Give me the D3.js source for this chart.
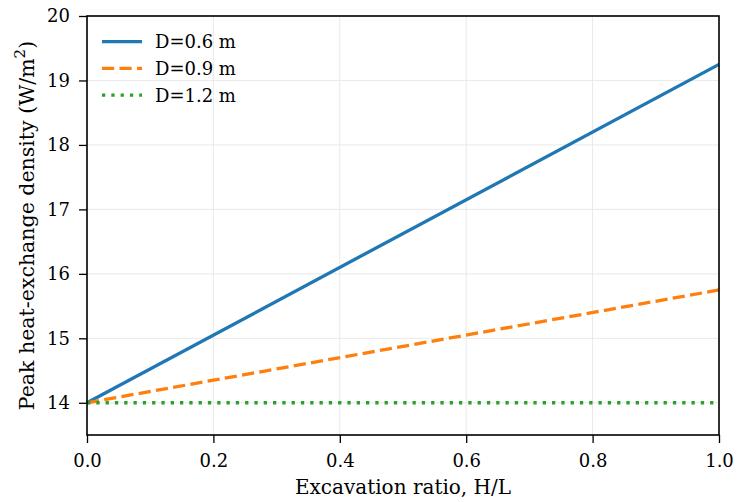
<!DOCTYPE html>
<html><head><meta charset="utf-8">
<script src="https://cdn.jsdelivr.net/npm/d3@7"></script>
<style>body{margin:0;background:#fff}</style>
</head><body>
<svg id="c" width="739" height="502"></svg>
<script>
const xTicks = [0, 0.2, 0.4, 0.6, 0.8, 1.0];
const yTicks = [14, 15, 16, 17, 18, 19, 20];
const xVals = [0, 1];
const seriesNames = ["D=0.6 m", "D=0.9 m", "D=1.2 m"];
const s06 = [14.0, 19.25];
const s09 = [14.0, 15.75];
const s12 = [14.0, 14.0];
const colors = ["#1f77b4", "#ff7f0e", "#2ca02c"];
const dashes = [null, "12.2,5.3", "3.3,6"];

const svg = d3.select("#c");
const m = {l: 87, r: 719, t: 16, b: 435};
const x = d3.scaleLinear().domain([0, 1]).range([m.l, m.r]);
const y = d3.scaleLinear().domain([13.5, 20]).range([m.b, m.t]);
const font = "DejaVu Serif";

// grid
svg.append("g").selectAll("line").data(xTicks).join("line")
  .attr("x1", d => x(d)).attr("x2", d => x(d)).attr("y1", m.t).attr("y2", m.b)
  .attr("stroke", "#e6e6e6").attr("stroke-width", 0.9);
svg.append("g").selectAll("line").data(yTicks).join("line")
  .attr("x1", m.l).attr("x2", m.r).attr("y1", d => y(d)).attr("y2", d => y(d))
  .attr("stroke", "#e6e6e6").attr("stroke-width", 0.9);

// lines
const allSeries = [s06, s09, s12];
const line = d3.line().x((d, i) => x(xVals[i])).y(d => y(d));
allSeries.forEach((s, i) => {
  svg.append("path").datum(s).attr("d", line).attr("fill", "none")
    .attr("stroke", colors[i]).attr("stroke-width", 3.3)
    .attr("stroke-dasharray", dashes[i]);
});

// axes
const xAxis = svg.append("g").attr("transform", `translate(0,${m.b})`)
  .call(d3.axisBottom(x).tickValues(xTicks).tickFormat(d3.format(".1f")).tickSize(8).tickPadding(11));
const yAxis = svg.append("g").attr("transform", `translate(${m.l},0)`)
  .call(d3.axisLeft(y).tickValues(yTicks).tickFormat(d3.format("d")).tickSize(8).tickPadding(9));
[xAxis, yAxis].forEach(a => {
  a.select(".domain").remove();
  a.selectAll(".tick line").attr("stroke", "#000").attr("stroke-width", 1.3);
  a.selectAll(".tick text").attr("font-family", font).attr("font-size", 18).attr("fill", "#000");
});

// frame
svg.append("rect").attr("x", m.l).attr("y", m.t).attr("width", m.r - m.l).attr("height", m.b - m.t)
  .attr("fill", "none").attr("stroke", "#000").attr("stroke-width", 1.6);

// labels
svg.append("text").attr("x", (m.l + m.r) / 2).attr("y", 494).attr("text-anchor", "middle")
  .attr("font-family", font).attr("font-size", 20).text("Excavation ratio, H/L");
const yl = svg.append("text").attr("transform", `translate(34,${(m.t + m.b) / 2}) rotate(-90)`)
  .attr("text-anchor", "middle").attr("font-family", font).attr("font-size", 20.5);
yl.append("tspan").text("Peak heat-exchange density (W/m");
yl.append("tspan").attr("baseline-shift", "super").attr("font-size", 15).text("2");
yl.append("tspan").text(")");

// legend
seriesNames.forEach((n, i) => {
  const yy = 41.7 + i * 26.7;
  svg.append("line").attr("x1", 102).attr("x2", 142).attr("y1", yy).attr("y2", yy)
    .attr("stroke", colors[i]).attr("stroke-width", 3.3).attr("stroke-dasharray", dashes[i]);
  svg.append("text").attr("x", 155).attr("y", yy + 6.5).attr("font-family", font)
    .attr("font-size", 18).text(n);
});
</script>
</body></html>
